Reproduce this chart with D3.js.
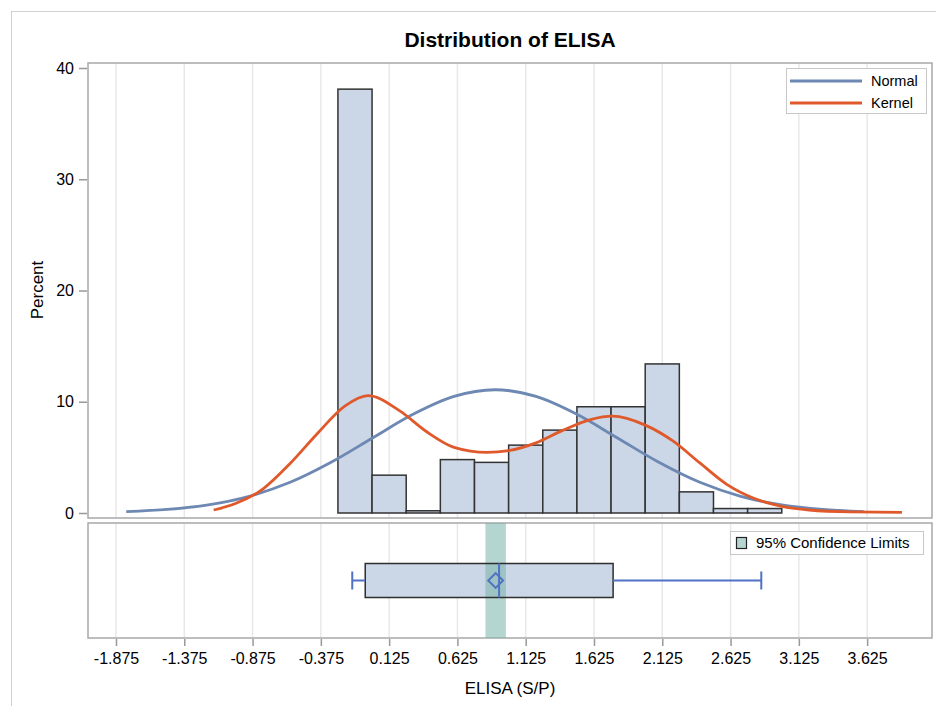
<!DOCTYPE html>
<html>
<head>
<meta charset="utf-8">
<script src="https://cdn.jsdelivr.net/npm/d3@7"></script>
<style>
  body { margin: 0; background: #fff; }
  svg text { font-family: "Liberation Sans", Arial, sans-serif; fill: #000; }
</style>
</head>
<body>
<script>
// histogram bins (left edges, width 0.25) and percents
var binStarts = [-0.25, 0, 0.25, 0.5, 0.75, 1.0, 1.25, 1.5, 1.75, 2.0, 2.25, 2.5, 2.75];
var binWidth = 0.25;
var percents = [38.1, 3.4, 0.2, 4.8, 4.55, 6.1, 7.45, 9.55, 9.55, 13.4, 1.9, 0.4, 0.4];

// fitted curves
var normalX = [-1.8, -1.5, -1.2, -0.9, -0.6, -0.3, 0.0, 0.3, 0.6, 0.9, 1.2, 1.5, 1.8, 2.1, 2.4, 2.7, 3.0, 3.3, 3.6];
var normalY = [0.12, 0.32, 0.73, 1.5, 2.76, 4.56, 6.72, 8.87, 10.48, 11.08, 10.48, 8.87, 6.72, 4.56, 2.76, 1.5, 0.73, 0.32, 0.12];
var kernelX = [-1.16, -1.0, -0.8, -0.6, -0.4, -0.2, -0.03, 0.2, 0.4, 0.6, 0.84, 1.0, 1.2, 1.4, 1.6, 1.76, 2.0, 2.2, 2.4, 2.6, 2.8, 3.0, 3.2, 3.5, 3.88];
var kernelY = [0.27, 0.85, 2.15, 4.45, 7.15, 9.6, 10.55, 9.2, 7.3, 5.9, 5.45, 5.6, 6.3, 7.45, 8.4, 8.7, 7.9, 6.5, 4.5, 2.55, 1.3, 0.6, 0.27, 0.1, 0.06];

// box plot stats
var boxMin = -0.145, boxQ1 = -0.05, boxMedian = 0.93, boxMean = 0.905, boxQ3 = 1.765, boxMax = 2.85;
var ciLow = 0.83, ciHigh = 0.98;

var xTicks = [-1.875, -1.375, -0.875, -0.375, 0.125, 0.625, 1.125, 1.625, 2.125, 2.625, 3.125, 3.625];
var yTicks = [0, 10, 20, 30, 40];

var W = 936, H = 706;
var left = 88, right = 932;
var topY = 63, topBottom = 518;
var lowTop = 523, lowBottom = 638;

var svg = d3.select("body").append("svg").attr("width", W).attr("height", H);

// outer frame
svg.append("rect").attr("x", 11.5).attr("y", 11.5).attr("width", 940).attr("height", 720)
   .attr("fill", "none").attr("stroke", "#d0d0d0");

var x = d3.scaleLinear().domain([-2.08, 4.10]).range([left, right]);
var y = d3.scaleLinear().domain([-0.45, 40.45]).range([topBottom, topY]);

svg.append("text").attr("x", (left + right) / 2).attr("y", 47).attr("text-anchor", "middle")
   .style("font-size", "21px").style("font-weight", "bold").text("Distribution of ELISA");

// grid lines, both panels
[[topY, topBottom], [lowTop, lowBottom]].forEach(function(p) {
  svg.append("g").selectAll("line").data(xTicks).enter().append("line")
     .attr("x1", function(d) { return x(d); }).attr("x2", function(d) { return x(d); })
     .attr("y1", p[0]).attr("y2", p[1])
     .attr("stroke", "#e8e8e8").attr("stroke-width", 1.5);
});

var curveLine = function(xs, ys) {
  return d3.line().x(function(d, i) { return x(xs[i]); }).y(function(d, i) { return y(ys[i]); })
           .curve(d3.curveMonotoneX)(xs);
};

// histogram
svg.append("g").selectAll("rect").data(percents).enter().append("rect")
   .attr("x", function(d, i) { return x(binStarts[i]); })
   .attr("width", function(d, i) { return x(binStarts[i] + binWidth) - x(binStarts[i]); })
   .attr("y", function(d) { return y(d); })
   .attr("height", function(d) { return y(0) - y(d); })
   .attr("fill", "#cbd6e6").attr("stroke", "#333").attr("stroke-width", 1.5);

svg.append("path").attr("d", curveLine(normalX, normalY))
   .attr("fill", "none").attr("stroke", "#6d88b3").attr("stroke-width", 2.8);
svg.append("path").attr("d", curveLine(kernelX, kernelY))
   .attr("fill", "none").attr("stroke", "#e0592b").attr("stroke-width", 2.8);

// panel borders
svg.append("rect").attr("x", left).attr("y", topY).attr("width", right - left).attr("height", topBottom - topY)
   .attr("fill", "none").attr("stroke", "#a8a8a8").attr("stroke-width", 1.5);
svg.append("rect").attr("x", left).attr("y", lowTop).attr("width", right - left).attr("height", lowBottom - lowTop)
   .attr("fill", "none").attr("stroke", "#a8a8a8").attr("stroke-width", 1.5);

// y axis
var yAxis = svg.append("g").attr("transform", "translate(" + (left - 1) + ",0)")
   .call(d3.axisLeft(y).tickValues(yTicks).tickSize(8).tickPadding(5));
yAxis.select(".domain").remove();
yAxis.selectAll("line").attr("stroke", "#999").attr("stroke-width", 1.5);
yAxis.selectAll("text").style("font-size", "16px").attr("fill", "#000");

svg.append("text").attr("transform", "translate(43,290) rotate(-90)").attr("text-anchor", "middle")
   .style("font-size", "17px").text("Percent");

// top legend
var lg = svg.append("g");
lg.append("rect").attr("x", 786.5).attr("y", 68.5).attr("width", 140).attr("height", 45)
  .attr("fill", "#fff").attr("stroke", "#c8c8c8");
[["Normal", "#6d88b3", 81], ["Kernel", "#e0592b", 103]].forEach(function(e) {
  lg.append("line").attr("x1", 790).attr("x2", 862).attr("y1", e[2]).attr("y2", e[2])
    .attr("stroke", e[1]).attr("stroke-width", 3);
  lg.append("text").attr("x", 871).attr("y", e[2]).attr("dy", "0.35em")
    .style("font-size", "14.5px").text(e[0]);
});

// box plot
var yc = 580.5, bh = 34;
svg.append("rect").attr("x", x(boxQ1)).attr("y", yc - bh / 2).attr("width", x(boxQ3) - x(boxQ1)).attr("height", bh)
   .attr("fill", "#cbd6e6");
svg.append("rect").attr("x", x(ciLow)).attr("y", lowTop).attr("width", x(ciHigh) - x(ciLow)).attr("height", lowBottom - lowTop)
   .attr("fill", "#78b4aa").attr("fill-opacity", 0.55);
svg.append("rect").attr("x", x(boxQ1)).attr("y", yc - bh / 2).attr("width", x(boxQ3) - x(boxQ1)).attr("height", bh)
   .attr("fill", "none").attr("stroke", "#2e2e2e").attr("stroke-width", 1.5);
var blue = "#4f72c4";
svg.append("line").attr("x1", x(boxMedian)).attr("x2", x(boxMedian)).attr("y1", yc - bh / 2).attr("y2", yc + bh / 2)
   .attr("stroke", blue).attr("stroke-width", 2);
svg.append("line").attr("x1", x(boxMin)).attr("x2", x(boxQ1)).attr("y1", yc).attr("y2", yc)
   .attr("stroke", blue).attr("stroke-width", 2);
svg.append("line").attr("x1", x(boxQ3)).attr("x2", x(boxMax)).attr("y1", yc).attr("y2", yc)
   .attr("stroke", blue).attr("stroke-width", 2);
[boxMin, boxMax].forEach(function(v) {
  svg.append("line").attr("x1", x(v)).attr("x2", x(v)).attr("y1", yc - 9).attr("y2", yc + 9)
     .attr("stroke", blue).attr("stroke-width", 2);
});
svg.append("path").attr("d", d3.symbol().type(d3.symbolSquare).size(110)())
   .attr("transform", "translate(" + x(boxMean) + "," + yc + ") rotate(45)")
   .attr("fill", "none").attr("stroke", blue).attr("stroke-width", 2);

// lower legend
svg.append("rect").attr("x", 730.5).attr("y", 531.5).attr("width", 193).attr("height", 23)
   .attr("fill", "#fff").attr("stroke", "#c8c8c8");
svg.append("rect").attr("x", 736.5).attr("y", 537.5).attr("width", 10).attr("height", 11)
   .attr("fill", "#b5d5d1").attr("stroke", "#222").attr("stroke-width", 1.2);
svg.append("text").attr("x", 756).attr("y", 543).attr("dy", "0.35em")
   .style("font-size", "15px").text("95% Confidence Limits");

// x axis
var xAxis = svg.append("g").attr("transform", "translate(0," + (lowBottom + 1) + ")")
   .call(d3.axisBottom(x).tickValues(xTicks).tickSize(7).tickPadding(7)
         .tickFormat(function(d) { return d.toFixed(3); }));
xAxis.select(".domain").remove();
xAxis.selectAll("line").attr("stroke", "#999").attr("stroke-width", 1.5);
xAxis.selectAll("text").style("font-size", "16px").attr("fill", "#000");

svg.append("text").attr("x", (left + right) / 2).attr("y", 694).attr("text-anchor", "middle")
   .style("font-size", "17px").text("ELISA (S/P)");
</script>
</body>
</html>
